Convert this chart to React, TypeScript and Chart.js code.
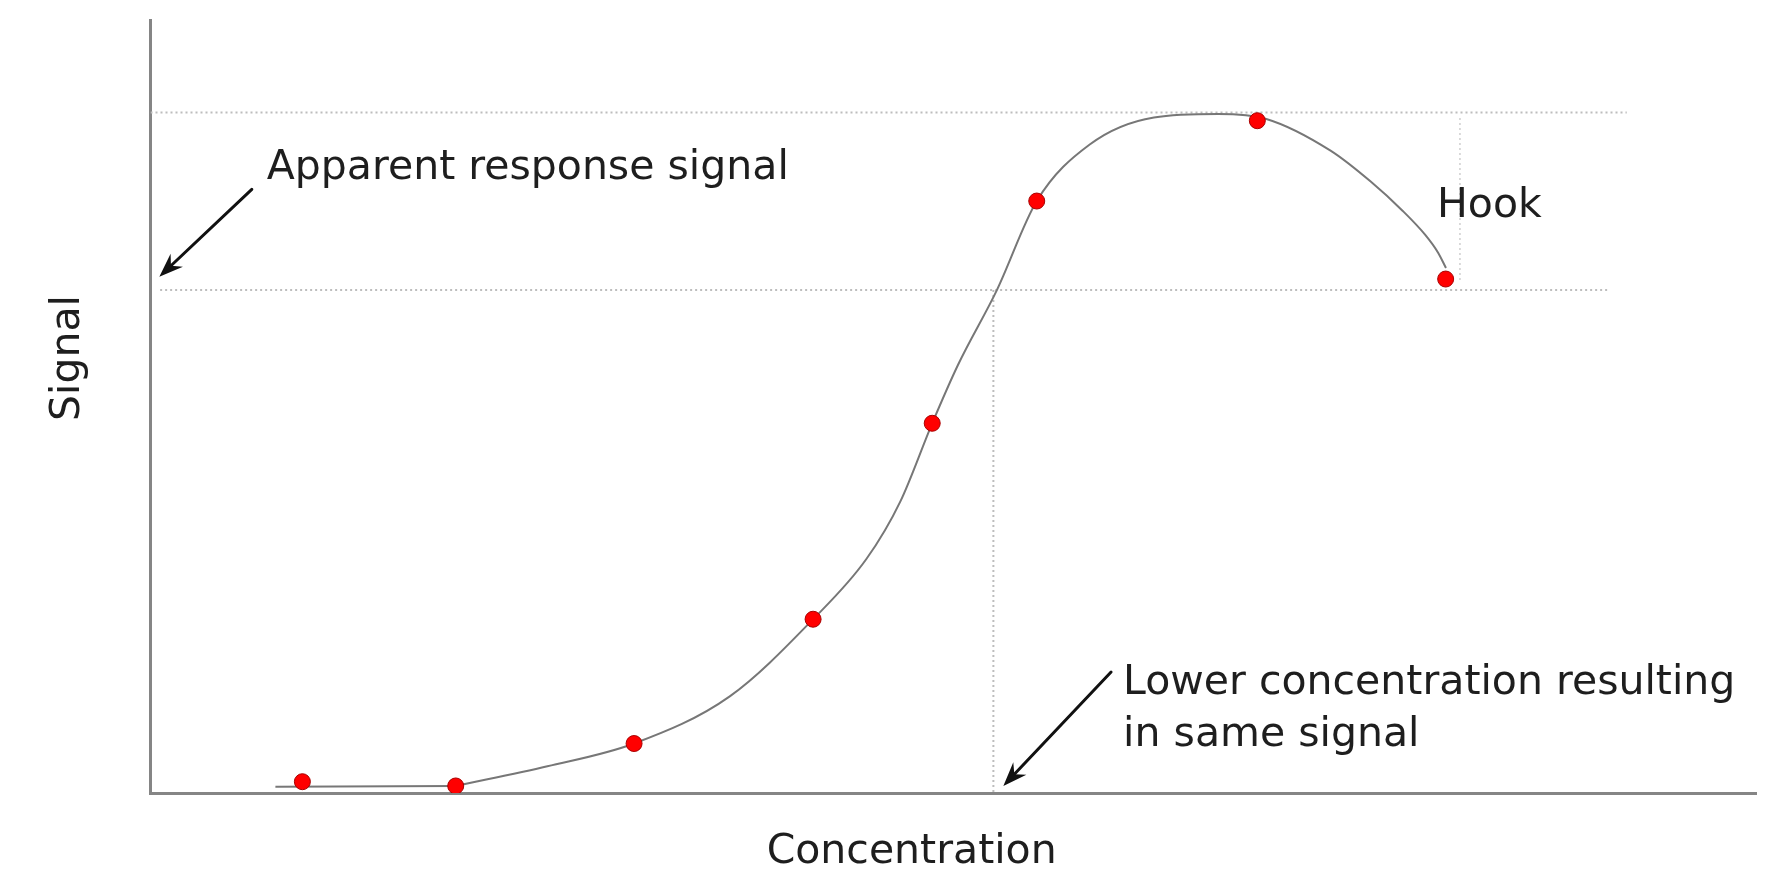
import React, { useEffect, useRef } from "react";
import { Chart, registerables } from "chart.js";

Chart.register(...registerables);

// ---- Data (axis units 0..100) ----
const sampleConcentration = [9.46, 19.01, 30.12, 41.27, 48.69, 55.2, 68.94, 80.67];
const sampleSignal = [1.46, 0.91, 6.4, 22.48, 47.83, 76.58, 86.97, 66.49];

// flat lead-in of the fitted curve
const baselineConcentration = [7.78, 19.01];
const baselineSignal = [0.82, 0.91];

// fitted dose-response curve with hook
const curveConcentration = [
  19.01, 24.72, 30.12, 36.08, 41.27, 44.6, 46.7, 48.69, 50.3, 52.71, 55.2, 58.5,
  62.5, 66.5, 69.5, 73.5, 76.0, 78.0, 79.4, 80.2, 80.69,
];
const curveSignal = [
  0.91, 3.45, 6.4, 12.5, 22.48, 30.3, 37.7, 47.83, 55.4, 65.02, 76.58, 83.9,
  87.4, 87.85, 87.2, 83.1, 79.1, 75.3, 72.2, 69.9, 67.92,
];

const maxSignalLevel = 88.03;
const maxSignalLineEnd = 91.95;
const apparentSignalLevel = 65.07;
const apparentLineStart = 0.6;
const apparentLineEnd = 90.9;
const lowerConcentration = 52.5;
const hookConcentration = 81.56;
const hookTop = 87.32;
const hookBottom = 65.98;

const X_MIN = 0;
const X_MAX = 100;
const Y_MIN = 0;
const Y_MAX = 100;

// ---- Annotations (in axis units) ----
const textLabels = [
  { text: "Apparent response signal", x: 7.24, y: 79.39, align: "left", rotate: false },
  { text: "Hook", x: 80.13, y: 74.55, align: "left", rotate: false },
  { text: "Lower concentration resulting", x: 60.58, y: 12.81, align: "left", rotate: false },
  { text: "in same signal", x: 60.58, y: 6.08, align: "left", rotate: false },
  { text: "Concentration", x: 47.41, y: -9.06, align: "center", rotate: false },
  { text: "Signal", x: -4.45, y: 56.27, align: "center", rotate: true },
];

const arrowTailX = [6.31, 59.83];
const arrowTailY = [78.1, 15.65];
const arrowTipX = [0.55, 53.12];
const arrowTipY = [66.79, 0.91];

const TEXT_COLOR = "#1e1e1e";
const FONT = '41px "DejaVu Sans"';

const annotationPlugin = {
  id: "hookAnnotations",
  afterDatasetsDraw(chart: any) {
    const { ctx } = chart;
    const xs = chart.scales.x;
    const ys = chart.scales.y;
    ctx.save();
    ctx.fillStyle = TEXT_COLOR;
    ctx.font = FONT;
    ctx.textBaseline = "alphabetic";
    for (const lbl of textLabels) {
      const px = xs.getPixelForValue(lbl.x);
      const py = ys.getPixelForValue(lbl.y);
      ctx.textAlign = lbl.align as CanvasTextAlign;
      if (lbl.rotate) {
        ctx.save();
        ctx.translate(px, py);
        ctx.rotate(-Math.PI / 2);
        ctx.fillText(lbl.text, 0, 0);
        ctx.restore();
      } else {
        ctx.fillText(lbl.text, px, py);
      }
    }
    // arrows
    ctx.strokeStyle = "#111";
    ctx.fillStyle = "#111";
    ctx.lineWidth = 3;
    ctx.lineCap = "round";
    for (let i = 0; i < arrowTailX.length; i++) {
      const tx = xs.getPixelForValue(arrowTailX[i]);
      const ty = ys.getPixelForValue(arrowTailY[i]);
      const hx = xs.getPixelForValue(arrowTipX[i]);
      const hy = ys.getPixelForValue(arrowTipY[i]);
      const ang = Math.atan2(hy - ty, hx - tx);
      const len = 24;
      const half = 9;
      const notch = 16;
      const ux = Math.cos(ang);
      const uy = Math.sin(ang);
      const nx = -uy;
      const ny = ux;
      ctx.beginPath();
      ctx.moveTo(tx, ty);
      ctx.lineTo(hx - ux * notch, hy - uy * notch);
      ctx.stroke();
      ctx.beginPath();
      ctx.moveTo(hx, hy);
      ctx.lineTo(hx - ux * len + nx * half, hy - uy * len + ny * half);
      ctx.lineTo(hx - ux * notch, hy - uy * notch);
      ctx.lineTo(hx - ux * len - nx * half, hy - uy * len - ny * half);
      ctx.closePath();
      ctx.fill();
    }
    ctx.restore();
  },
};

const dotted = {
  borderColor: "#bdbdbd",
  borderWidth: 2,
  borderDash: [2, 3],
  pointRadius: 0,
  fill: false,
  tension: 0,
};

const curveStyle = {
  borderColor: "#777777",
  borderWidth: 2,
  pointRadius: 0,
  fill: false,
};

export default function App() {
  const canvasRef = useRef<HTMLCanvasElement | null>(null);

  useEffect(() => {
    if (!canvasRef.current) return;
    const pts = sampleConcentration.map((x, i) => ({ x, y: sampleSignal[i] }));
    const base = baselineConcentration.map((x, i) => ({ x, y: baselineSignal[i] }));
    const curve = curveConcentration.map((x, i) => ({ x, y: curveSignal[i] }));
    const chart = new Chart(canvasRef.current, {
      type: "line",
      data: {
        datasets: [
          {
            label: "Samples",
            data: pts,
            showLine: false,
            pointRadius: 8,
            pointBackgroundColor: "#ff0000",
            pointBorderColor: "#a80000",
            pointBorderWidth: 1,
            borderColor: "#a80000",
          },
          {
            label: "Curve",
            data: curve,
            ...curveStyle,
            cubicInterpolationMode: "monotone",
          },
          {
            label: "Baseline",
            data: base,
            ...curveStyle,
            tension: 0,
          },
          {
            label: "Max signal",
            data: [
              { x: X_MIN, y: maxSignalLevel },
              { x: maxSignalLineEnd, y: maxSignalLevel },
            ],
            ...dotted,
          },
          {
            label: "Apparent signal",
            data: [
              { x: apparentLineStart, y: apparentSignalLevel },
              { x: apparentLineEnd, y: apparentSignalLevel },
            ],
            ...dotted,
          },
          {
            label: "Lower concentration",
            data: [
              { x: lowerConcentration, y: apparentSignalLevel },
              { x: lowerConcentration, y: Y_MIN },
            ],
            ...dotted,
          },
          {
            label: "Hook",
            data: [
              { x: hookConcentration, y: hookTop },
              { x: hookConcentration, y: hookBottom },
            ],
            ...dotted,
            borderColor: "#cfcfcf",
            borderWidth: 1.5,
          },
        ],
      },
      options: {
        responsive: false,
        maintainAspectRatio: false,
        animation: false,
        parsing: true,
        layout: { padding: { top: 20, right: 32, left: 0, bottom: 0 } },
        plugins: {
          legend: { display: false },
          tooltip: { enabled: false },
          title: { display: false },
        },
        scales: {
          x: {
            type: "linear",
            min: X_MIN,
            max: X_MAX,
            grid: { display: false },
            ticks: { display: false },
            border: { display: true, color: "#858585", width: 3 },
            afterFit: (s: any) => {
              s.height = 76;
            },
          },
          y: {
            type: "linear",
            min: Y_MIN,
            max: Y_MAX,
            grid: { display: false },
            ticks: { display: false },
            border: { display: true, color: "#858585", width: 3 },
            afterFit: (s: any) => {
              s.width = 150.5;
            },
          },
        },
      },
      plugins: [annotationPlugin],
    } as any);
    return () => chart.destroy();
  }, []);

  return (
    <div
      style={{
        position: "fixed",
        left: 0,
        top: 0,
        width: 1788,
        height: 869,
        background: "#ffffff",
      }}
    >
      <canvas ref={canvasRef} width={1788} height={869} style={{ display: "block" }} />
    </div>
  );
}
